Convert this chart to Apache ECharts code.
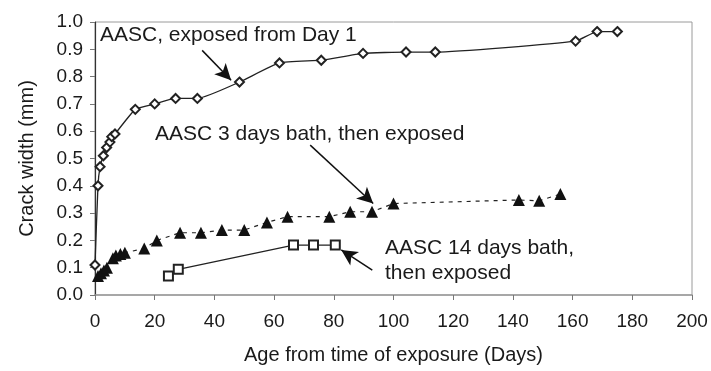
<!DOCTYPE html>
<html>
<head>
<meta charset="utf-8">
<script src="https://cdn.jsdelivr.net/npm/echarts@6/dist/echarts.min.js"></script>
<style>
  html, body { margin: 0; padding: 0; background: #fff; }
  #chart { width: 711px; height: 371px; }
</style>
</head>
<body>
<div id="chart"></div>
<script>
// Crack width development (mm) against age from time of exposure (days)

// AASC, exposed from Day 1
const daysExposed = [0, 1, 1.7, 2.8, 3.9, 5, 5.6, 6.7, 13.5, 20, 27, 34.3, 48.4, 61.8, 75.8, 89.8, 104.2, 114, 161, 168.2, 175];
const widthExposed = [0.11, 0.40, 0.47, 0.51, 0.54, 0.56, 0.58, 0.59, 0.68, 0.70, 0.72, 0.72, 0.78, 0.85, 0.86, 0.885, 0.89, 0.89, 0.93, 0.965, 0.965];

// AASC 3 days bath, then exposed
const days3Bath = [1, 2, 3, 4, 6, 7, 8.5, 10, 16.5, 20.7, 28.5, 35.5, 42.5, 50, 57.6, 64.5, 78.5, 85.5, 92.8, 100, 142, 148.8, 155.9];
const width3Bath = [0.07, 0.08, 0.09, 0.10, 0.135, 0.145, 0.15, 0.155, 0.17, 0.20, 0.228, 0.228, 0.238, 0.238, 0.266, 0.287, 0.287, 0.305, 0.305, 0.335, 0.348, 0.345, 0.37];

// AASC 14 days bath, then exposed
const days14Bath = [24.6, 27.9, 66.5, 73.2, 80.5];
const width14Bath = [0.07, 0.094, 0.183, 0.183, 0.183];

// Axis ranges and tick steps
const xTicks = { min: 0, max: 200, step: 20 };
const yTicks = { min: 0, max: 1.0, step: 0.1 };

// Callout arrows: [fromDay, fromWidth, toDay, toWidth]
const arrowExposed = [35.9, 0.896, 45.6, 0.787];
const arrow3Bath = [72.1, 0.549, 93.2, 0.335];
const arrow14Bath = [92.9, 0.091, 82.5, 0.165];

const zip = (xs, ys) => xs.map((x, i) => [x, ys[i]]);
const arrowLine = a => ({
  silent: true,
  symbol: ['none', 'arrow'],
  symbolSize: [12, 16],
  label: { show: false },
  lineStyle: { color: '#111', width: 1.5, type: 'solid' },
  emphasis: { disabled: true },
  animation: false,
  data: [[{ coord: [a[0], a[1]] }, { coord: [a[2], a[3]] }]]
});

const textColor = '#1a1a1a';
const ink = '#222';
const fontFam = '"Liberation Sans", Arial, sans-serif';

const chart = echarts.init(document.getElementById('chart'), null, { renderer: 'canvas' });
chart.setOption({
  animation: false,
  backgroundColor: '#fff',
  grid: {
    left: 95, right: 19, top: 22, bottom: 76,
    show: true, borderColor: '#9a9a9a', borderWidth: 1, backgroundColor: 'transparent'
  },
  xAxis: {
    type: 'value',
    min: xTicks.min, max: xTicks.max, interval: xTicks.step,
    name: 'Age from time of exposure (Days)',
    nameLocation: 'middle', nameGap: 50,
    nameTextStyle: { fontSize: 20, color: textColor, fontFamily: fontFam },
    axisLine: { show: true, lineStyle: { color: '#9a9a9a', width: 1.5 } },
    axisTick: { show: true, length: 5, lineStyle: { color: '#777' } },
    axisLabel: { fontSize: 19, color: textColor, fontFamily: fontFam, margin: 17 },
    splitLine: { show: false }
  },
  yAxis: {
    type: 'value',
    min: yTicks.min, max: yTicks.max, interval: yTicks.step,
    name: 'Crack width (mm)',
    nameLocation: 'middle', nameGap: 58,
    nameTextStyle: { fontSize: 20, color: textColor, fontFamily: fontFam },
    axisLine: { show: true, lineStyle: { color: '#333', width: 1.2 } },
    axisTick: { show: true, length: 5, lineStyle: { color: '#777' } },
    axisLabel: { fontSize: 19, color: textColor, fontFamily: fontFam, margin: 12,
      formatter: v => v.toFixed(1) },
    splitLine: { show: false }
  },
  series: [
    {
      name: 'AASC, exposed from Day 1',
      type: 'line',
      data: zip(daysExposed, widthExposed),
      smooth: 0.15,
      symbol: 'emptyDiamond', symbolSize: 9,
      itemStyle: { color: ink, borderWidth: 1.2 },
      lineStyle: { color: ink, width: 1.3 },
      markLine: arrowLine(arrowExposed)
    },
    {
      name: 'AASC 3 days bath, then exposed',
      type: 'line',
      data: zip(days3Bath, width3Bath),
      symbol: 'triangle', symbolSize: 12,
      itemStyle: { color: '#111' },
      lineStyle: { color: ink, width: 1.2, type: [4, 5] },
      markLine: arrowLine(arrow3Bath)
    },
    {
      name: 'AASC 14 days bath, then exposed',
      type: 'line',
      data: zip(days14Bath, width14Bath),
      symbol: 'emptyRect', symbolSize: 9,
      itemStyle: { color: ink, borderWidth: 1.2 },
      lineStyle: { color: ink, width: 1.3 },
      markLine: arrowLine(arrow14Bath)
    }
  ],
  graphic: [
    { type: 'text', x: 100, y: 35, silent: true,
      style: { text: 'AASC, exposed from Day 1', font: '21px ' + fontFam, fill: textColor, textVerticalAlign: 'middle' } },
    { type: 'text', x: 155, y: 134, silent: true,
      style: { text: 'AASC 3 days bath, then exposed', font: '21px ' + fontFam, fill: textColor, textVerticalAlign: 'middle' } },
    { type: 'text', x: 385, y: 248, silent: true,
      style: { text: 'AASC 14 days bath,', font: '21px ' + fontFam, fill: textColor, textVerticalAlign: 'middle' } },
    { type: 'text', x: 385, y: 273, silent: true,
      style: { text: 'then exposed', font: '21px ' + fontFam, fill: textColor, textVerticalAlign: 'middle' } }
  ]
});
</script>
</body>
</html>
